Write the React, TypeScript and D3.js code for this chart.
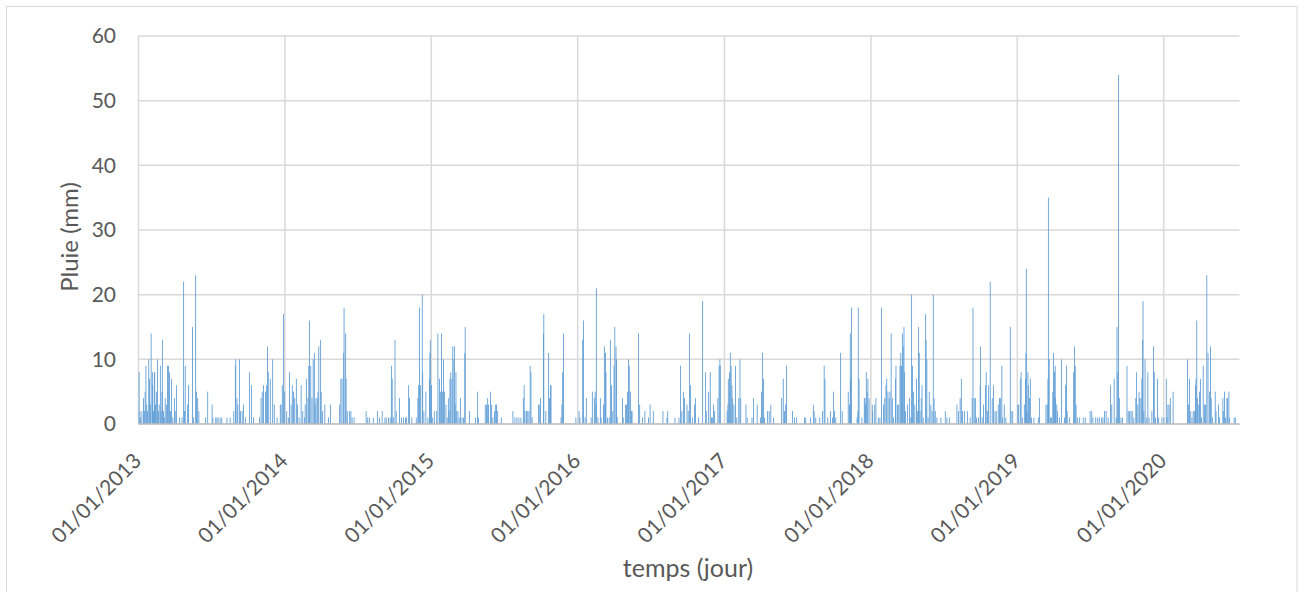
import React from "react";
import * as d3 from "d3";

// Daily rainfall (mm): [day of year (0 = 1 Jan), mm]
const rain2013: [number, number][] = [
  [1,8],[3,2],[5,1],[8,2],[12,4],[14,2],[16,5],[18,9],[20,3],[22,2],[25,10],[27,7],[29,3],[31,14],[34,8],[35,6],[37,2],[39,8],[40,8],[42,3],[44,5],[47,10],[49,2],[51,3],[54,9],[56,2],[58,5],[59,13],[62,2],[64,1],[66,4],[69,3],[72,9],[74,9],[77,8],[79,2],[82,7],[85,1],[89,4],[91,2],[94,6],[102,1],[108,1],[112,22],[114,2],[116,9],[122,3],[124,6],[134,15],[137,1],[142,23],[144,5],[147,4],[150,2],[167,1],[172,5],[183,3],[185,1],[192,1],[195,1],[198,1],[203,1],[207,1],[220,1],[228,1],[237,2],[241,9],[242,10],[245,4],[247,3],[251,10],[254,2],[258,2],[261,3],[266,1],[276,8],[281,6],[286,1],[301,1],[305,4],[308,5],[311,6],[316,5],[319,6],[321,12],[323,8],[328,7],[334,10],[338,3],[345,1],[353,3],[355,3],[358,6],[361,17],[364,5],
];
const rain2014: [number, number][] = [
  [4,2],[8,1],[11,8],[15,3],[18,6],[21,5],[24,4],[28,7],[31,3],[35,1],[40,6],[44,2],[48,1],[50,3],[53,7],[57,4],[59,9],[61,16],[64,9],[67,4],[70,10],[73,11],[75,3],[77,4],[80,4],[82,5],[84,12],[88,13],[90,5],[93,2],[99,3],[108,1],[113,3],[136,3],[139,7],[142,7],[146,11],[147,18],[151,14],[152,7],[155,2],[161,2],[164,2],[167,1],[172,1],[202,2],[206,1],[210,1],[220,1],[230,2],[235,1],[242,2],[249,1],[252,1],[258,1],[262,1],[265,9],[267,7],[270,1],[274,13],[277,2],[285,4],[290,1],[295,1],[300,1],[303,1],[308,6],[310,4],[316,1],[327,1],[331,4],[333,6],[335,18],[338,6],[342,20],[343,8],[346,2],[351,5],[356,1],[360,7],[361,11],[362,13],
];
const rain2015: [number, number][] = [
  [0,6],[3,1],[7,2],[13,2],[16,14],[20,7],[22,5],[25,14],[27,5],[30,10],[32,5],[36,3],[39,1],[42,4],[44,2],[46,7],[48,8],[51,7],[53,12],[56,10],[57,12],[59,3],[61,8],[63,2],[66,2],[69,1],[72,4],[76,1],[80,1],[83,11],[84,15],[95,2],[110,1],[115,5],[117,1],[134,3],[137,3],[140,4],[142,3],[147,5],[150,3],[153,1],[157,2],[160,3],[162,3],[165,2],[174,1],[203,2],[208,1],[213,1],[218,1],[223,1],[229,4],[231,6],[233,2],[237,2],[240,2],[243,2],[246,9],[248,8],[251,1],[267,3],[270,3],[272,4],[279,14],[280,17],[285,2],[292,11],[294,4],[297,6],[298,6],[323,1],[325,3],[327,8],[329,14],[360,1],
];
const rain2016: [number, number][] = [
  [3,2],[5,1],[12,13],[14,16],[18,1],[21,4],[33,1],[36,5],[41,4],[43,5],[45,3],[46,21],[50,1],[56,4],[58,1],[64,3],[66,12],[69,11],[70,8],[74,1],[78,1],[81,13],[84,6],[87,2],[90,9],[92,15],[95,12],[96,10],[98,1],[111,4],[113,1],[119,3],[121,3],[124,5],[126,10],[128,9],[131,5],[134,2],[135,2],[151,14],[154,3],[161,1],[167,2],[176,1],[180,3],[188,2],[212,2],[222,1],[224,2],[242,1],[252,1],[256,9],[259,2],[263,5],[266,4],[272,3],[275,2],[278,14],[281,6],[286,1],[291,3],[293,4],[301,1],[311,19],[318,8],[320,2],[326,5],[330,8],[333,1],[336,1],[338,3],[341,2],[349,4],[352,9],[354,10],[355,9],
];
const rain2017: [number, number][] = [
  [6,2],[8,3],[9,7],[12,8],[14,11],[16,9],[18,6],[20,4],[23,3],[27,9],[30,1],[35,4],[38,10],[40,4],[53,3],[56,1],[68,1],[72,4],[81,3],[89,1],[92,5],[94,11],[97,7],[99,1],[107,2],[111,2],[115,3],[122,1],[142,4],[146,7],[149,2],[152,3],[154,9],[169,2],[174,1],[179,1],[199,1],[202,1],[214,1],[221,3],[223,2],[227,1],[237,1],[244,2],[248,9],[250,7],[257,1],[264,2],[269,1],[271,5],[274,2],[277,1],[289,11],[293,2],[308,5],[311,3],[313,14],[314,7],[316,18],[330,1],[332,2],[333,18],[335,7],[342,1],[348,4],[350,4],[351,3],[353,8],[355,5],[357,7],[360,4],
];
const rain2018: [number, number][] = [
  [3,3],[4,2],[9,3],[12,4],[18,1],[22,1],[26,18],[31,3],[34,4],[37,6],[39,7],[42,5],[45,4],[47,5],[50,14],[53,4],[56,1],[61,7],[62,9],[66,3],[69,3],[72,9],[74,11],[76,9],[78,14],[80,12],[82,15],[83,8],[86,2],[91,3],[96,4],[99,1],[101,20],[103,9],[106,5],[109,3],[113,7],[116,2],[118,15],[120,11],[122,2],[125,4],[127,6],[130,1],[136,17],[137,13],[139,10],[142,1],[145,5],[149,3],[152,2],[155,20],[157,4],[160,2],[164,1],[174,1],[185,2],[189,1],[195,1],[214,3],[218,2],[222,4],[225,7],[228,2],[233,2],[240,2],[247,1],[252,4],[254,18],[257,4],[260,4],[263,1],[268,1],[272,6],[273,12],[277,1],[280,3],[285,6],[287,8],[290,2],[293,6],[297,22],[302,4],[305,6],[309,2],[312,2],[317,3],[320,4],[323,4],[326,9],[328,1],[332,3],[336,1],[347,15],[349,2],[353,2],
];
const rain2019: [number, number][] = [
  [1,3],[3,3],[7,7],[9,8],[12,1],[17,3],[20,7],[21,11],[22,24],[24,2],[26,8],[27,6],[30,4],[32,7],[35,1],[41,1],[52,1],[55,4],[71,3],[74,3],[76,7],[77,35],[79,10],[82,1],[85,1],[88,5],[90,11],[92,8],[94,9],[95,4],[98,3],[100,2],[105,1],[110,10],[117,1],[120,6],[122,9],[124,2],[130,1],[140,8],[142,12],[144,9],[146,3],[149,1],[155,1],[164,1],[169,1],[181,2],[185,2],[188,1],[195,1],[200,1],[204,1],[210,1],[213,1],[217,2],[221,2],[226,1],[232,6],[235,3],[241,7],[246,1],[248,15],[250,8],[252,54],[254,4],[258,1],[262,1],[273,9],[276,2],[279,2],[283,2],[286,2],[290,1],[295,4],[297,8],[300,3],[303,5],[305,4],[308,4],[310,7],[312,13],[313,19],[315,2],[318,10],[321,1],[325,8],[328,1],[335,2],[339,12],[341,8],[344,1],[349,7],[352,1],[360,1],
];
const rain2020: [number, number][] = [
  [0,1],[6,7],[8,1],[10,3],[13,3],[16,4],[23,5],[59,10],[61,3],[64,7],[67,2],[70,1],[73,2],[76,2],[79,6],[80,7],[82,16],[84,4],[87,3],[89,5],[91,7],[94,1],[98,9],[101,3],[104,3],[107,23],[110,11],[114,5],[116,12],[118,4],[121,1],[128,5],[130,2],[136,3],[139,1],[147,4],[149,2],[151,5],[154,1],[157,4],[159,4],[162,5],[164,1],[175,1],[178,1],
];

const years = [2013, 2014, 2015, 2016, 2017, 2018, 2019, 2020];
const yearlyRain = [rain2013, rain2014, rain2015, rain2016, rain2017, rain2018, rain2019, rain2020];
const yTicks = [0, 10, 20, 30, 40, 50, 60];
const startDate = new Date(Date.UTC(2013, 0, 1));
const endDate = new Date(Date.UTC(2020, 6, 8));
const xTickDates = years.map((y) => new Date(Date.UTC(y, 0, 1)));
const fmt = d3.utcFormat("%d/%m/%Y");

const W = 1304, H = 592;
const plotL = 138.5, plotR = 1239.5, plotT = 36, plotB = 424;
const FONT = "Lato, 'Open Sans', sans-serif";
const TEXT = "#595959";
const GRID = "#d9d9d9";
const BAR = "#5B9BD5";

export default function App() {
  const x = d3.scaleUtc().domain([startDate, endDate]).range([plotL, plotR]);
  const y = d3.scaleLinear().domain([0, 60]).range([plotB, plotT]);
  const dayW = x(new Date(Date.UTC(2013, 0, 2))) - x(startDate);
  const barW = Math.max(dayW, 0.85);

  const points = yearlyRain.flatMap((arr, i) =>
    arr.map(([doy, mm]) => ({ date: d3.utcDay.offset(new Date(Date.UTC(years[i], 0, 1)), doy), mm }))
  );

  return (
    <svg width={W} height={H} style={{ position: "absolute", left: 0, top: 0, background: "#fff" }}>
      <rect x={6.5} y={6.5} width={1290.5} height={620} fill="#fff" stroke={GRID} strokeWidth={1} />
      {yTicks.map((t) => (
        <line key={"h" + t} x1={plotL} x2={plotR} y1={y(t)} y2={y(t)} stroke={GRID} strokeWidth={1.5} />
      ))}
      {xTickDates.map((d) => (
        <line key={"v" + d.getTime()} x1={x(d)} x2={x(d)} y1={plotT} y2={plotB} stroke={GRID} strokeWidth={1.5} />
      ))}
      <g>
        {points.map((p, i) => (
          <rect
            key={i}
            x={x(p.date) + dayW / 2 - barW / 2}
            y={y(p.mm)}
            width={barW}
            height={plotB - y(p.mm)}
            fill={BAR}
          />
        ))}
      </g>
      <line x1={plotL} x2={plotR} y1={plotB} y2={plotB} stroke="#bfbfbf" strokeWidth={1.5} />
      {yTicks.map((t) => (
        <text key={"yl" + t} x={116} y={y(t)} dy="0.35em" textAnchor="end" fontFamily={FONT} fontSize={21} fill={TEXT}>
          {t}
        </text>
      ))}
      {xTickDates.map((d) => (
        <text
          key={"xl" + d.getTime()}
          transform={`translate(${x(d) - 1},${457}) rotate(-45)`}
          textAnchor="end"
          dy="0.35em"
          fontFamily={FONT}
          fontSize={21}
          fill={TEXT}
        >
          {fmt(d)}
        </text>
      ))}
      <text x={688} y={577} textAnchor="middle" fontFamily={FONT} fontSize={25} fill={TEXT}>
        temps (jour)
      </text>
      <text transform={`translate(78,237) rotate(-90)`} textAnchor="middle" fontFamily={FONT} fontSize={24} fill={TEXT}>
        Pluie (mm)
      </text>
    </svg>
  );
}
